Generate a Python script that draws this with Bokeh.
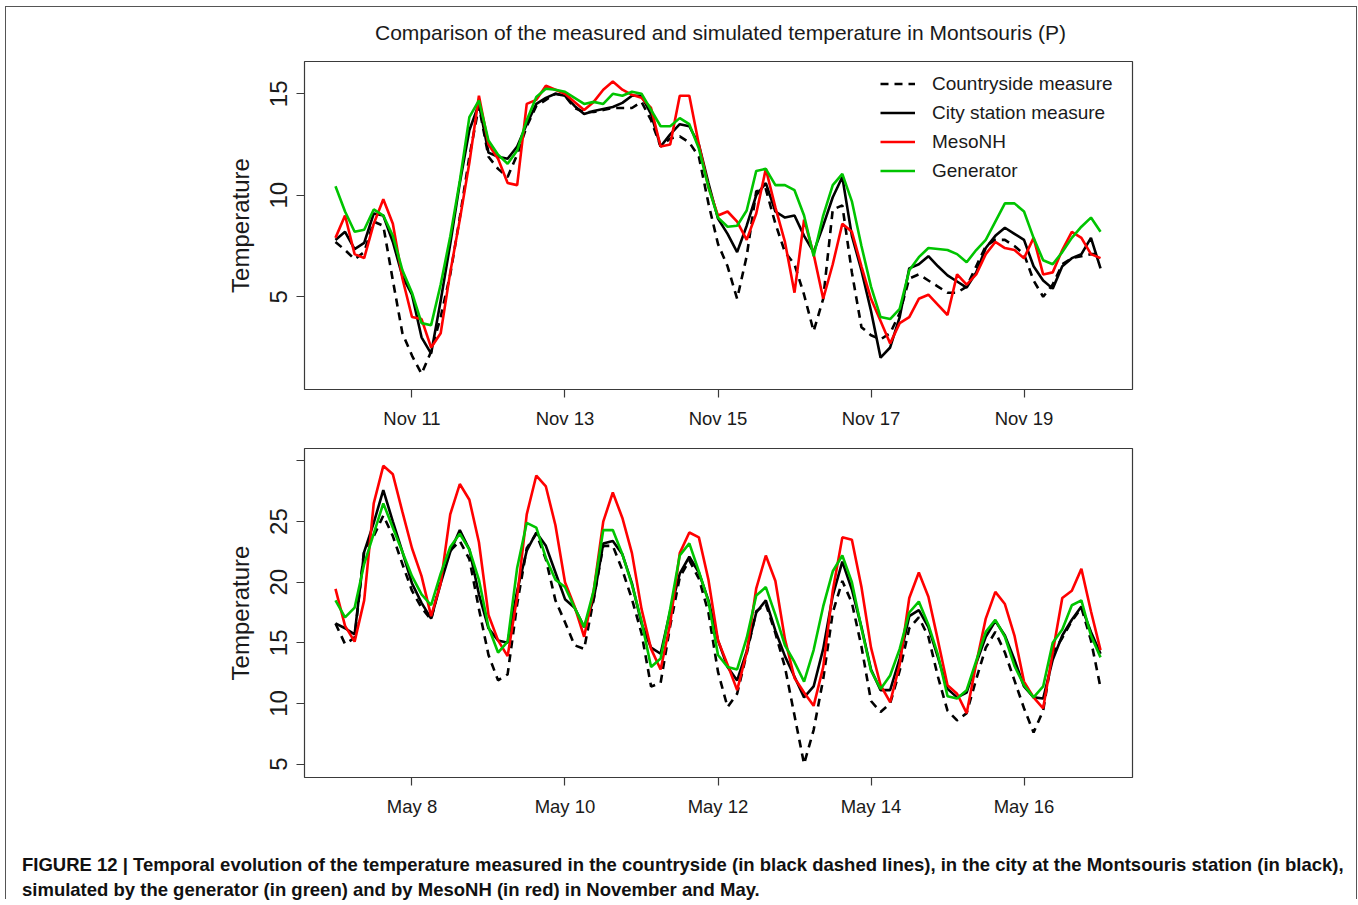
import numpy as np
from bokeh.plotting import figure
from bokeh.models import Range1d, FixedTicker, Legend, LegendItem, Column, Div
from bokeh.embed import file_html
from bokeh.resources import INLINE

# ---------------- data (3-hourly, 10 days) ----------------
hours = list(range(0, 241, 3))

nov_tick_days = [1, 3, 5, 7, 9]
nov_tick_labels = ["Nov 11", "Nov 13", "Nov 15", "Nov 17", "Nov 19"]
may_tick_days = [1, 3, 5, 7, 9]
may_tick_labels = ["May 8", "May 10", "May 12", "May 14", "May 16"]

series_names = ["Countryside measure", "City station measure", "MesoNH", "Generator"]

nov_countryside = [7.7, 7.3, 6.85, 7.2, 8.7, 8.5, 5.8, 3.2, 2.1, 1.2, 2.3, 4.0, 6.1, 8.9, 11.9, 14.4, 11.9, 11.3, 10.9, 12.0,
                   13.4, 14.4, 14.7, 15.0, 14.9, 14.3, 14.1, 14.1, 14.2, 14.3, 14.3, 14.3, 14.6, 13.7, 12.4, 12.8, 12.9, 12.6, 11.9, 9.6,
                   7.6, 6.5, 4.9, 7.0, 10.2, 10.3, 8.6, 7.2, 6.6, 5.1, 3.3, 4.9, 9.3, 9.5, 6.2, 3.5, 3.1, 2.9, 3.2, 4.2,
                   5.9, 6.1, 5.8, 5.5, 5.2, 5.2, 5.5, 6.5, 7.5, 7.8, 7.8, 7.5, 7.1, 5.8, 5.0, 5.6, 6.6, 6.9, 7.0, 7.1, 7.1]
nov_city = [7.8, 8.2, 7.35, 7.65, 9.1, 9.0, 7.7, 6.0, 5.1, 3.0, 2.2, 4.8, 7.6, 10.6, 13.2, 14.5, 12.1, 11.9, 11.8, 12.4,
            13.5, 14.5, 14.8, 15.0, 14.9, 14.4, 14.0, 14.15, 14.25, 14.35, 14.55, 14.9, 14.9, 14.0, 12.4, 13.0, 13.5, 13.4, 12.5, 10.6,
            8.85, 8.1, 7.2, 8.5, 10.0, 10.6, 9.2, 8.9, 9.0, 8.0, 7.2, 8.5, 9.9, 10.9, 8.0, 6.3, 4.3, 2.0, 2.5, 4.0,
            6.4, 6.6, 7.0, 6.5, 6.05, 5.75, 5.45, 6.2, 7.4, 8.0, 8.4, 8.1, 7.8, 6.5, 5.8, 5.4, 6.5, 6.9, 7.1, 7.9, 6.4]
nov_mesonh = [7.9, 9.0, 7.1, 6.9, 8.6, 9.8, 8.6, 5.9, 4.0, 3.9, 2.5, 3.2, 6.2, 8.8, 11.6, 14.9, 12.5, 11.8, 10.6, 10.5,
              14.5, 14.7, 15.4, 15.2, 15.0, 14.6, 14.2, 14.6, 15.2, 15.6, 15.2, 14.95, 14.8, 14.3, 12.4, 12.5, 14.9, 14.9, 12.5, 10.4,
              9.0, 9.2, 8.7, 7.8, 9.1, 11.3, 9.4, 7.7, 5.2, 8.8, 7.1, 4.9, 6.6, 8.6, 8.2, 6.5, 4.9, 3.8, 2.7, 3.7,
              4.0, 4.9, 5.1, 4.6, 4.1, 6.1, 5.6, 6.1, 7.1, 7.7, 7.4, 7.3, 6.9, 7.9, 6.1, 6.2, 7.3, 8.2, 7.9, 7.1, 6.9]
nov_generator = [10.44, 9.2, 8.2, 8.3, 9.3, 9.0, 8.0, 6.3, 5.2, 3.7, 3.6, 5.6, 7.97, 10.7, 13.85, 14.67, 12.7, 12.0, 11.55, 12.2,
                 13.7, 14.84, 15.25, 15.2, 15.1, 14.8, 14.5, 14.6, 14.5, 15.0, 14.9, 15.1, 15.0, 14.2, 13.4, 13.4, 13.8, 13.5, 12.3, 10.4,
                 8.9, 8.45, 8.5, 9.25, 11.2, 11.3, 10.5, 10.5, 10.25, 9.0, 7.0, 9.0, 10.5, 11.05, 9.7, 7.5, 5.5, 4.0, 3.9, 4.4,
                 6.3, 6.95, 7.4, 7.35, 7.3, 7.1, 6.7, 7.3, 7.8, 8.7, 9.6, 9.6, 9.2, 7.9, 6.8, 6.6, 7.2, 7.9, 8.45, 8.9, 8.2]

may_countryside = [16.6, 14.9, 15.4, 22.7, 23.8, 25.5, 23.8, 21.5, 19.3, 17.9, 16.9, 20.2, 22.6, 23.4, 21.9, 17.8, 14.0, 11.9, 12.4, 18.2,
                   22.8, 24.0, 21.9, 18.5, 16.7, 14.8, 14.5, 18.6, 23.0, 23.0, 21.0, 18.6, 15.8, 11.4, 11.7, 16.4, 20.4, 21.8, 20.3, 17.5,
                   12.6, 9.7, 10.8, 14.1, 17.6, 18.2, 15.8, 13.0, 9.0, 5.0, 7.8, 12.0, 17.5, 20.1, 18.3, 14.7, 10.2, 9.3, 10.0, 12.7,
                   16.2, 17.1, 15.5, 12.2, 9.4, 8.6, 9.2, 12.0, 14.6, 15.9, 14.2, 11.9, 9.6, 7.6, 9.4, 14.2, 15.4, 16.8, 17.9, 15.2, 11.3]
may_city = [16.6, 16.2, 15.7, 22.5, 24.9, 27.6, 25.0, 22.5, 19.9, 18.3, 17.0, 19.9, 22.5, 24.3, 22.7, 19.0, 16.2, 15.2, 15.0, 19.3,
            22.6, 24.1, 23.0, 20.8, 18.6, 17.9, 16.3, 18.6, 23.2, 23.4, 22.3, 19.9, 16.6, 14.6, 14.1, 17.6, 20.7, 22.1, 20.8, 18.5,
            15.2, 13.0, 11.9, 14.3, 17.5, 18.5, 16.0, 13.9, 12.2, 10.5, 11.4, 14.5, 18.9, 21.7, 19.4, 16.3, 12.8, 11.1, 11.1, 13.7,
            17.2, 17.7, 16.3, 13.8, 11.2, 10.5, 10.9, 13.3, 15.5, 16.8, 15.6, 13.6, 11.4, 10.5, 10.4, 13.6, 15.6, 16.9, 18.0, 15.9, 14.1]
may_mesonh = [19.45, 16.4, 15.1, 18.5, 26.5, 29.6, 28.9, 25.8, 22.8, 20.5, 17.2, 19.9, 25.6, 28.1, 26.8, 23.3, 17.3, 15.2, 13.9, 18.8,
              25.6, 28.8, 27.9, 24.7, 20.0, 18.0, 15.5, 19.3, 25.0, 27.4, 25.3, 22.4, 17.8, 14.5, 12.8, 16.6, 22.4, 24.1, 23.7, 20.2,
              15.2, 13.2, 11.1, 14.2, 19.5, 22.2, 20.1, 15.3, 12.1, 10.9, 9.8, 13.0, 19.3, 23.7, 23.5, 19.6, 14.6, 11.5, 10.1, 13.2,
              18.7, 20.8, 18.8, 15.2, 11.5, 10.8, 9.2, 13.3, 17.0, 19.2, 18.2, 15.6, 11.8, 10.5, 9.6, 14.2, 18.7, 19.3, 21.1, 17.6, 14.4]
may_generator = [18.5, 17.1, 17.9, 21.5, 24.0, 26.5, 24.5, 22.5, 20.5, 19.0, 18.1, 20.7, 22.9, 24.0, 22.7, 20.2, 16.3, 14.2, 15.1, 21.2,
                 24.9, 24.5, 22.0, 20.2, 19.6, 17.9, 16.3, 19.3, 24.3, 24.3, 22.3, 19.8, 16.8, 13.0, 13.7, 17.8, 22.2, 23.2, 20.9, 18.4,
                 14.0, 13.0, 12.8, 15.4, 18.9, 19.6, 17.3, 14.8, 13.4, 11.8, 14.4, 18.0, 20.9, 22.2, 20.0, 16.2, 12.7, 11.2, 12.3, 14.5,
                 17.5, 18.4, 16.5, 14.0, 10.6, 10.4, 11.1, 13.5, 15.9, 16.9, 15.5, 13.1, 11.5, 10.5, 11.4, 15.0, 16.1, 18.1, 18.5, 15.6, 13.8]

title_text = "Comparison of the measured and simulated temperature in Montsouris (P)"
caption_1 = ("FIGURE 12 | Temporal evolution of the temperature measured in the countryside (in black dashed lines), "
             "in the city at the Montsouris station (in black),")
caption_2 = "simulated by the generator (in green) and by MesoNH (in red) in November and May."

# ---------------- styling ----------------
FONT = "Liberation Sans"
days = np.array(hours) / 24.0
W = 1350

styles = [
    dict(line_color="black", line_dash="8 6", line_width=2.6),
    dict(line_color="black", line_width=2.6),
    dict(line_color="#FF0000", line_width=2.6),
    dict(line_color="#00C400", line_width=2.6),
]


def make_panel(height, y_range, min_top, min_bottom, yticks, tick_days, tick_labels, series, hide=None):
    p = figure(width=W, height=height, x_range=Range1d(-0.405, 10.418), y_range=Range1d(*y_range),
               output_backend="svg", toolbar_location=None,
               min_border_left=298, min_border_right=W - 298 - 828,
               min_border_top=min_top, min_border_bottom=min_bottom)
    p.background_fill_color = "white"
    p.border_fill_color = "white"
    p.outline_line_color = "#3a3a3a"
    p.outline_line_width = 1.2
    p.xgrid.visible = False
    p.ygrid.visible = False

    xa = p.xaxis[0]
    xa.ticker = FixedTicker(ticks=tick_days)
    xa.major_label_overrides = {d: s for d, s in zip(tick_days, tick_labels)}
    ya = p.yaxis[0]
    ya.ticker = FixedTicker(ticks=yticks)
    if hide is not None:
        ya.major_label_overrides = {hide: ""}
    for ax in (xa, ya):
        ax.axis_line_color = None
        ax.major_tick_out = 8
        ax.major_tick_in = 0
        ax.major_tick_line_color = "#3a3a3a"
        ax.major_tick_line_width = 1.2
        ax.minor_tick_line_color = None
        ax.major_label_text_font = FONT
        ax.major_label_text_color = "#1a1a1a"
    xa.major_label_text_font_size = "18.5px"
    xa.major_label_standoff = 10
    ya.major_label_text_font_size = "24px"
    ya.major_label_orientation = "vertical"
    ya.major_label_standoff = 9
    ya.axis_label = "Temperature"
    ya.axis_label_text_font = FONT
    ya.axis_label_text_font_size = "24px"
    ya.axis_label_text_font_style = "normal"
    ya.axis_label_text_color = "#1a1a1a"
    ya.axis_label_standoff = 14

    renderers = []
    for vals, st in zip(series, styles):
        renderers.append(p.line(days, vals, **st))
    return p, renderers


title = Div(
    text=('<div style="font-family: \'Liberation Sans\', Arial, sans-serif; font-size: 21px; color: #1a1a1a; '
          'line-height: 24px; padding-top: 14px; padding-left: 369px; white-space: nowrap;">'
          + title_text + "</div>"),
    width=W, height=52, margin=0)

p1, r1 = make_panel(382, (0.43, 16.59), 2, 52, [5, 10, 15], nov_tick_days, nov_tick_labels,
                    [nov_countryside, nov_city, nov_mesonh, nov_generator])

legend = Legend(items=[LegendItem(label=n, renderers=[r]) for n, r in zip(series_names, r1)],
                location=(576, 204), orientation="vertical",
                border_line_color=None, background_fill_alpha=0,
                padding=0, margin=0, spacing=0,
                glyph_width=35, glyph_height=29, label_height=29, label_standoff=17,
                label_text_font=FONT, label_text_font_size="19px", label_text_color="#1a1a1a")
p1.add_layout(legend)

p2, r2 = make_panel(386, (3.89, 31.03), 7, 50, [5, 10, 15, 20, 25, 30], may_tick_days, may_tick_labels,
                    [may_countryside, may_city, may_mesonh, may_generator], hide=30)

caption = Div(
    text=('<div style="font-family: \'Liberation Sans\', Arial, sans-serif; font-size: 18.5px; font-weight: bold; '
          'color: #111; line-height: 25px; padding-top: 25px; padding-left: 16px; white-space: nowrap;">'
          + caption_1 + "<br>" + caption_2 + "</div>"),
    width=W, height=72, margin=0)

layout = Column(children=[title, p1, p2, caption],
                styles={"margin-left": "5px", "margin-top": "6px",
                        "border-left": "1px solid #555555", "border-top": "1px solid #555555",
                        "border-right": "1px solid #555555"})

open("out.html", "w").write(file_html(layout, INLINE))
